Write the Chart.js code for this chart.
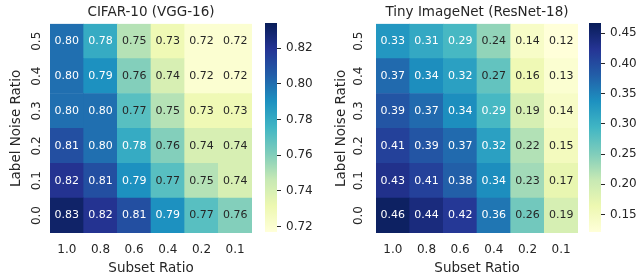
<!DOCTYPE html>
<html lang="en">
<head>
<meta charset="UTF-8">
<title>Heatmaps</title>
<script src="https://cdn.jsdelivr.net/npm/chart.js"></script>
<style>
  body { margin: 0; background: #fff; }
  .wrap { position: relative; width: 640px; height: 275px; }
  canvas { position: absolute; top: 0; }
</style>
</head>
<body>
<div class="wrap">
  <canvas id="heatA" width="260" height="275" style="left:0"></canvas>
  <canvas id="barA" width="55" height="275" style="left:265px"></canvas>
  <canvas id="heatB" width="265" height="275" style="left:320px"></canvas>
  <canvas id="barB" width="51" height="275" style="left:589px"></canvas>
</div>
<script>
// data
const subsetRatios = ['1.0', '0.8', '0.6', '0.4', '0.2', '0.1'];
const noiseRatios = ['0.0', '0.1', '0.2', '0.3', '0.4', '0.5'];

// rows = noise 0.0 .. 0.5, columns = subset 1.0 .. 0.1
const cifarAcc = [
    [0.83, 0.82, 0.81, 0.79, 0.77, 0.76],
    [0.82, 0.81, 0.79, 0.77, 0.75, 0.74],
    [0.81, 0.80, 0.78, 0.76, 0.74, 0.74],
    [0.80, 0.80, 0.77, 0.75, 0.73, 0.73],
    [0.80, 0.79, 0.76, 0.74, 0.72, 0.72],
    [0.80, 0.78, 0.75, 0.73, 0.72, 0.72],
];
const tinyAcc = [
    [0.46, 0.44, 0.42, 0.36, 0.26, 0.19],
    [0.43, 0.41, 0.38, 0.34, 0.23, 0.17],
    [0.41, 0.39, 0.37, 0.32, 0.22, 0.15],
    [0.39, 0.37, 0.34, 0.29, 0.19, 0.14],
    [0.37, 0.34, 0.32, 0.27, 0.16, 0.13],
    [0.33, 0.31, 0.29, 0.24, 0.14, 0.12],
];
const cifarRange = [0.717, 0.834];
const tinyRange = [0.121, 0.467];
const cifarTicks = [0.72, 0.74, 0.76, 0.78, 0.80, 0.82];
const tinyTicks = [0.15, 0.20, 0.25, 0.30, 0.35, 0.40, 0.45];

const ink = '#262626';
const family = 'DejaVu Sans';
// YlGnBu
const stops = ['#ffffd9', '#edf8b1', '#c7e9b4', '#7fcdbb', '#41b6c4', '#1d91c0', '#225ea8', '#253494', '#081d58'];

function hexRgb(h) {
    return [1, 3, 5].map(i => parseInt(h.substr(i, 2), 16));
}

function cmapRgb(v, range) {
    let t = (v - range[0]) / (range[1] - range[0]);
    t = Math.max(0, Math.min(1, t));
    const pos = t * (stops.length - 1);
    const i = Math.min(Math.floor(pos), stops.length - 2);
    const f = pos - i;
    const a = hexRgb(stops[i]), b = hexRgb(stops[i + 1]);
    return a.map((c, k) => Math.round(c + (b[k] - c) * f));
}

function cmap(v, range) {
    const c = cmapRgb(v, range);
    return 'rgb(' + c.join(',') + ')';
}

function textColour(v, range) {
    const lin = cmapRgb(v, range).map(c => {
        c = c / 255;
        return c <= 0.03928 ? c / 12.92 : Math.pow((c + 0.055) / 1.055, 2.4);
    });
    const lum = 0.2126 * lin[0] + 0.7152 * lin[1] + 0.0722 * lin[2];
    return lum > 0.408 ? ink : '#ffffff';
}

// cell numbers
const annotate = {
    id: 'annotate',
    afterDatasetsDraw(chart) {
        const ctx = chart.ctx;
        ctx.save();
        ctx.font = '11px "DejaVu Sans"';
        ctx.textAlign = 'center';
        ctx.textBaseline = 'middle';
        chart.data.datasets.forEach((ds, di) => {
            chart.getDatasetMeta(di).data.forEach((bar, j) => {
                const p = bar.getCenterPoint();
                ctx.fillStyle = textColour(ds.acc[j], ds.range);
                ctx.fillText(ds.acc[j].toFixed(2), p.x, p.y);
            });
        });
        ctx.restore();
    }
};

function heatmap(id, title, acc, range, yWidth, yTickPad, yTitlePad, padRight) {
    return new Chart(document.getElementById(id), {
        type: 'bar',
        data: {
            labels: subsetRatios,
            datasets: noiseRatios.map((n, r) => ({
                label: n,
                data: acc[r].map(() => 1),
                acc: acc[r],
                range: range,
                backgroundColor: acc[r].map(v => cmap(v, range)),
                borderWidth: 0,
                barPercentage: 1,
                categoryPercentage: 1,
            })),
        },
        options: {
            responsive: false,
            animation: false,
            layout: { padding: { right: padRight } },
            plugins: {
                legend: { display: false },
                tooltip: { enabled: false },
                title: {
                    display: true,
                    fullSize: false,
                    text: title,
                    color: ink,
                    font: { family, size: 13.5, weight: 'normal', lineHeight: 1.2 },
                    padding: { top: 4.3, bottom: 3.3 },
                },
            },
            scales: {
                x: {
                    stacked: true,
                    grid: { display: false, drawTicks: false },
                    border: { display: false },
                    ticks: { color: ink, font: { family, size: 12 }, padding: 10, maxRotation: 0, autoSkip: false },
                    title: {
                        display: true, text: 'Subset Ratio', color: ink,
                        font: { family, size: 13.5, lineHeight: 1.0 }, padding: { top: 0, bottom: 0 },
                    },
                    afterFit: s => { s.height = 42; },
                },
                y: {
                    stacked: true,
                    min: 0,
                    max: noiseRatios.length,
                    grid: { display: false, drawTicks: false },
                    border: { display: false },
                    afterBuildTicks: s => { s.ticks = noiseRatios.map((n, i) => ({ value: i + 0.5 })); },
                    ticks: {
                        color: ink, font: { family, size: 12 },
                        minRotation: 90, maxRotation: 90, crossAlign: 'center', padding: yTickPad,
                        callback: v => noiseRatios[Math.floor(v)],
                    },
                    title: {
                        display: true, text: 'Label Noise Ratio', color: ink,
                        font: { family, size: 13.5, lineHeight: 1.2 }, padding: { top: yTitlePad, bottom: 0 },
                    },
                    afterFit: s => { s.width = yWidth; },
                },
            },
        },
        plugins: [annotate],
    });
}

function colorbar(id, range, ticks, axisWidth) {
    return new Chart(document.getElementById(id), {
        type: 'bar',
        data: {
            labels: [''],
            datasets: [{
                data: [range],
                backgroundColor: c => {
                    const ca = c.chart.chartArea;
                    if (!ca) return stops[0];
                    const g = c.chart.ctx.createLinearGradient(0, ca.bottom, 0, ca.top);
                    stops.forEach((s, i) => g.addColorStop(i / (stops.length - 1), s));
                    return g;
                },
                borderWidth: 0,
                barPercentage: 1,
                categoryPercentage: 1,
            }],
        },
        options: {
            responsive: false,
            animation: false,
            layout: { padding: { top: 23, bottom: 43 } },
            plugins: { legend: { display: false }, tooltip: { enabled: false } },
            scales: {
                x: { display: false },
                y: {
                    position: 'right',
                    min: range[0],
                    max: range[1],
                    afterBuildTicks: s => { s.ticks = ticks.map(v => ({ value: v })); },
                    ticks: { color: ink, font: { family, size: 12 }, padding: 5, callback: v => v.toFixed(2) },
                    grid: { drawOnChartArea: false, drawTicks: true, tickLength: 4, color: ink, lineWidth: 1 },
                    border: { display: false },
                    afterFit: s => { s.width = axisWidth; },
                },
            },
        },
    });
}

heatmap('heatA', 'CIFAR-10 (VGG-16)', cifarAcc, cifarRange, 50, 3.5, 8, 8);
colorbar('barA', cifarRange, cifarTicks, 43);
heatmap('heatB', 'Tiny ImageNet (ResNet-18)', tinyAcc, tinyRange, 56, 7.5, 13, 7);
colorbar('barB', tinyRange, tinyTicks, 39);
</script>
</body>
</html>
